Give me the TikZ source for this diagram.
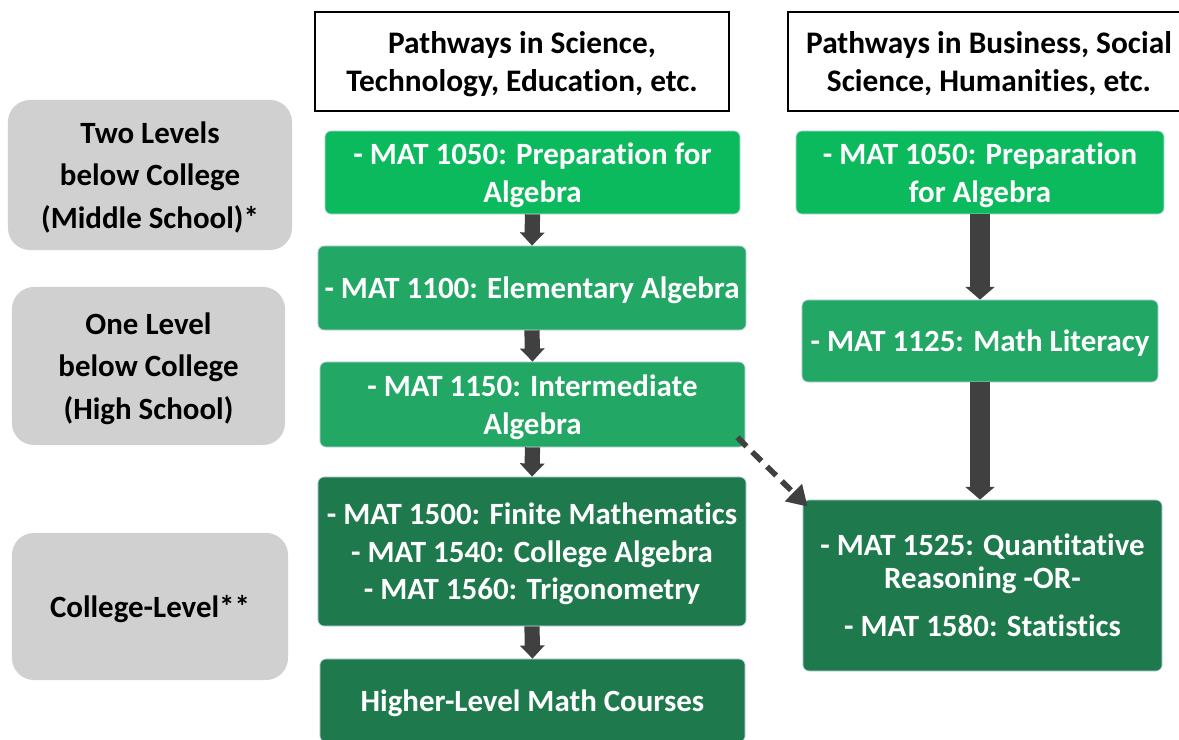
\documentclass[tikz,border=0pt]{standalone}
\usepackage{fontspec}
\setmainfont{Carlito}[Ligatures=NoCommon]
\usetikzlibrary{arrows.meta}
\definecolor{levelGrey}{HTML}{D0D0D0}
\definecolor{courseLight}{HTML}{0CBA5E}
\definecolor{courseMid}{HTML}{22A765}
\definecolor{courseDark}{HTML}{1E7A4C}
\definecolor{arrowGrey}{HTML}{404040}
\definecolor{edgeBlue}{HTML}{C5D6E6}

\tikzset{
	levelbox/.style={fill=levelGrey, rounded corners=0.55cm, inner sep=0pt, text depth=0pt, align=center, font=\bfseries\fontsize{22}{30}\selectfont},
	headbox/.style={draw=black, line width=0.06cm, inner sep=0pt, text depth=0pt, align=center, font=\bfseries\fontsize{22.3}{27.2}\selectfont},
	coursebox/.style={draw=edgeBlue, line width=0.5pt, rounded corners=0.15cm, inner sep=0pt, text depth=0pt, text=white, align=center, font=\bfseries\fontsize{22}{26.7}\selectfont},
	blockarrow/.style={draw=arrowGrey, line width=0.38cm, -{Triangle[width=0.6cm,length=0.33cm]}},
	widearrow/.style={draw=arrowGrey, line width=0.5cm, -{Triangle[width=0.72cm,length=0.32cm]}},
	dasharrow/.style={draw=arrowGrey, line width=0.14cm, dash pattern=on 0.32cm off 0.2cm, -{Triangle[width=0.58cm,length=0.5cm]}}
}

\begin{document}
\begin{tikzpicture}[x=0.025cm, y=-0.025cm]
			%%%%% START %%%%%
			\useasboundingbox (0, 0) rectangle (1179, 740);
			
			% column headers
			\node[headbox, minimum width=10.35cm, minimum height=2.475cm] (headSci) at (522, 61.5) {Pathways in Science,\\Technology, Education, etc.};
			\node[headbox, minimum width=10.05cm, minimum height=2.475cm] (headBus) at (989, 61.5) {Pathways in Business, Social\\Science, Humanities, etc.};
			
			% levels
			\node[levelbox, minimum width=7.1cm, minimum height=3.75cm] (levelTwo) at (150, 175) {Two Levels\\below College\\(Middle School)*};
			\node[levelbox, minimum width=6.825cm, minimum height=3.95cm] (levelOne) at (148.5, 366) {One Level\\below College\\(High School)};
			\node[levelbox, minimum width=6.9cm, minimum height=3.675cm] (levelCol) at (150, 606.5) {College-Level**};
			
			% science pathway
			\node[coursebox, fill=courseLight, minimum width=10.375cm, minimum height=2.075cm] (sci1050) at (532.5, 172.5) {- MAT 1050: Preparation for\\Algebra};
			\node[coursebox, fill=courseMid, minimum width=10.7cm, minimum height=2.1cm] (sci1100) at (532, 288) {- MAT 1100: Elementary Algebra};
			\node[coursebox, fill=courseMid, minimum width=10.625cm, minimum height=2.125cm] (sci1150) at (532.5, 404.5) {- MAT 1150: Intermediate\\Algebra};
			\node[coursebox, fill=courseDark, minimum width=10.7cm, minimum height=3.725cm] (sciCol) at (532, 551.5) {- MAT 1500: Finite Mathematics\\- MAT 1540: College Algebra\\- MAT 1560: Trigonometry};
			\node[coursebox, fill=courseDark, minimum width=10.625cm, minimum height=2.075cm] (sciHigh) at (532.5, 700.5) {Higher-Level Math Courses};
			
			% business pathway
			\node[coursebox, fill=courseLight, minimum width=9.2cm, minimum height=2.075cm] (bus1050) at (980, 172.5) {- MAT 1050: Preparation\\for Algebra};
			\node[coursebox, fill=courseMid, minimum width=8.9cm, minimum height=2.05cm] (bus1125) at (980, 341) {- MAT 1125: Math Literacy};
			\node[coursebox, fill=courseDark, minimum width=8.975cm, minimum height=4.275cm, font=\bfseries\fontsize{22}{23.5}\selectfont] (busQR) at (982.5, 585.5) {- MAT 1525: Quantitative\\Reasoning -OR-\\[0.375cm]- MAT 1580: Statistics};
			
			% arrows
			\draw[blockarrow] (sci1050.south) -- (sci1100.north);
			\draw[blockarrow] (sci1100.south) -- (sci1150.north);
			\draw[blockarrow] (sci1150.south) -- (sciCol.north);
			\draw[blockarrow] (sciCol.south) -- (sciHigh.north);
			\draw[widearrow] (bus1050.south) -- (bus1125.north);
			\draw[widearrow] (bus1125.south) -- (bus1125.south |- busQR.north);
			\draw[dasharrow] ([shift={(-8, -10)}]sci1150.south east) -- ([shift={(5, 7)}]busQR.north west);
			
			%%%%% END %%%%%
\end{tikzpicture}
\end{document}
